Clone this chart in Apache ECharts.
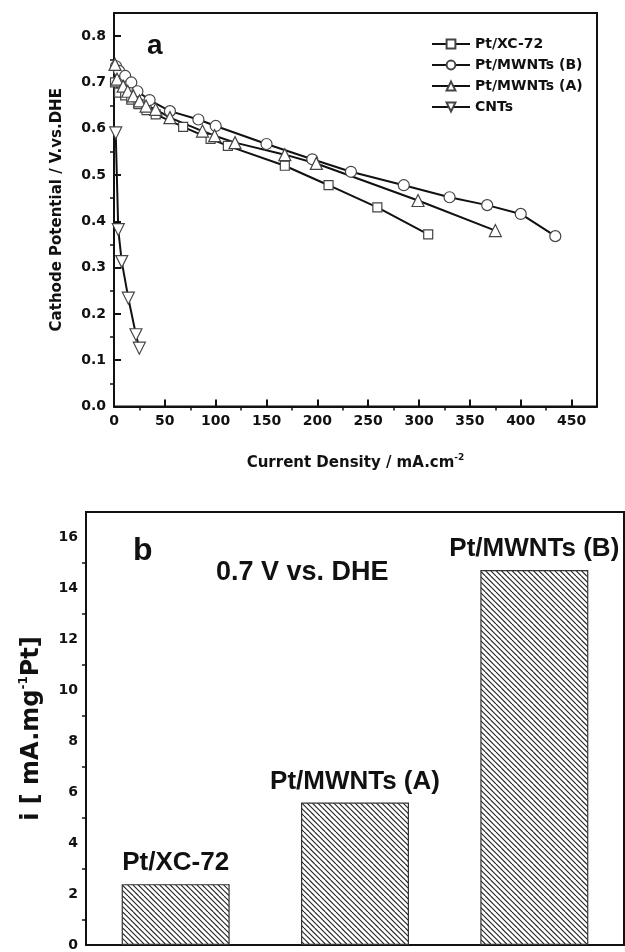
<!DOCTYPE html>
<html lang="en">
<head>
    <meta charset="UTF-8">
    <title>Cathode polarization / mass activity</title>
    <script src="https://cdn.jsdelivr.net/npm/echarts@6/dist/echarts.min.js"></script>
    <style>
        html, body { margin: 0; padding: 0; background: #fff; }
        #chart { width: 625px; height: 952px; }
    </style>
</head>
<body>
<div id="chart"></div>
<script>
    // (a) polarization curves
    var xcX = [1, 5, 11, 17, 24, 32, 41, 68, 95, 112, 168, 211, 259, 309];
    var xcY = [0.700, 0.678, 0.672, 0.663, 0.653, 0.640, 0.631, 0.604, 0.578, 0.563, 0.520, 0.478, 0.430, 0.372];

    var mwBX = [2, 5, 11, 17, 23, 35, 55, 83, 100, 150, 195, 233, 285, 330, 367, 400, 434];
    var mwBY = [0.735, 0.725, 0.714, 0.700, 0.681, 0.662, 0.638, 0.620, 0.606, 0.567, 0.534, 0.507, 0.478, 0.452, 0.435, 0.416, 0.368];

    var mwAX = [1, 3, 9, 13.5, 19, 25, 31.5, 41, 55, 87, 99, 119, 168, 199, 299, 375];
    var mwAY = [0.739, 0.707, 0.692, 0.681, 0.671, 0.660, 0.649, 0.642, 0.624, 0.595, 0.585, 0.570, 0.544, 0.525, 0.445, 0.380];

    var cntX = [1.7, 4.2, 7.6, 14.1, 21.6, 24.9];
    var cntY = [0.591, 0.382, 0.313, 0.234, 0.155, 0.126];

    var seriesNames = ['Pt/XC-72', 'Pt/MWNTs (B)', 'Pt/MWNTs (A)', 'CNTs'];

    // (b) mass activity at 0.7 V
    var barCats = ['Pt/XC-72', 'Pt/MWNTs (A)', 'Pt/MWNTs (B)'];
    var barVals = [2.39, 5.59, 14.72];

    function zip(xs, ys) {
        return xs.map(function (x, i) { return [x, ys[i]]; });
    }

    // diagonal hatch for the bars
    function hatch() {
        var s = 16;
        var c = document.createElement('canvas');
        c.width = s; c.height = s;
        var g = c.getContext('2d');
        g.fillStyle = '#fff';
        g.fillRect(0, 0, s, s);
        g.strokeStyle = '#222';
        g.lineWidth = 1.1;
        for (var k = -s; k <= s; k += s / 3) {
            g.beginPath();
            g.moveTo(k, 0);
            g.lineTo(k + s, s);
            g.stroke();
        }
        return c;
    }

    var tickFont = { fontFamily: 'DejaVu Sans', fontWeight: 'bold', fontSize: 14, color: '#111' };
    var arialB = 'Liberation Sans';
    var invTri = 'path://M0,0 L12,0 L6,10.4 Z';
    // minor ticks ignore axisTick.inside, so flip them by hand
    var minorIn = { show: true, splitNumber: 2, length: -4, lineStyle: { width: 1.5, color: '#111' } };
    var tickIn = { inside: true, length: 7, lineStyle: { width: 2, color: '#111' } };

    function lineSeries(name, data, symbol, size) {
        return {
            name: name,
            type: 'line',
            xAxisIndex: 0,
            yAxisIndex: 0,
            data: data,
            symbol: symbol,
            symbolSize: size,
            showAllSymbol: true,
            lineStyle: { color: '#111', width: 2 },
            itemStyle: { color: '#fff', borderColor: '#444', borderWidth: 1.2 },
            emphasis: { disabled: true },
            animation: false
        };
    }

    var chart = echarts.init(document.getElementById('chart'));

    var option = {
        animation: false,
        backgroundColor: '#fff',
        grid: [
            { left: 114, top: 13, right: 28, bottom: 545.5, show: true, borderColor: '#111', borderWidth: 2 },
            { left: 86, top: 512, right: 1, bottom: -1, show: true, borderColor: '#111', borderWidth: 2 }
        ],
        legend: {
            data: seriesNames,
            orient: 'vertical',
            left: 426,
            top: 32,
            itemWidth: 38,
            itemHeight: 11,
            itemGap: 7,
            textStyle: { fontFamily: 'DejaVu Sans', fontWeight: 'bold', fontSize: 14, color: '#111' }
        },
        xAxis: [
            {
                gridIndex: 0,
                type: 'value',
                min: 0, max: 475, interval: 50,
                name: '{t|Current Density / mA.cm}{s|-2}',
                nameLocation: 'middle',
                nameGap: 47,
                nameTextStyle: {
                    rich: {
                        t: { fontFamily: 'DejaVu Sans', fontWeight: 'bold', fontSize: 15, color: '#111', lineHeight: 20 },
                        s: { fontFamily: 'DejaVu Sans', fontWeight: 'bold', fontSize: 9, color: '#111', verticalAlign: 'top', lineHeight: 10 }
                    }
                },
                axisLine: { lineStyle: { color: '#111', width: 2 } },
                axisTick: tickIn,
                minorTick: minorIn,
                splitLine: { show: false },
                axisLabel: Object.assign({ margin: 8, formatter: function (v) { return v > 460 ? '' : v; } }, tickFont)
            },
            {
                gridIndex: 1,
                type: 'category',
                data: barCats,
                axisLine: { lineStyle: { color: '#111', width: 2 } },
                axisTick: { show: false },
                axisLabel: { show: false }
            }
        ],
        yAxis: [
            {
                gridIndex: 0,
                type: 'value',
                min: 0, max: 0.85, interval: 0.1,
                name: 'Cathode Potential / V.vs.DHE',
                nameLocation: 'middle',
                nameGap: 49,
                nameTextStyle: { fontFamily: 'DejaVu Sans', fontWeight: 'bold', fontSize: 15, color: '#111' },
                axisLine: { lineStyle: { color: '#111', width: 2 } },
                axisTick: tickIn,
                minorTick: minorIn,
                splitLine: { show: false },
                axisLabel: Object.assign({
                    margin: 8,
                    formatter: function (v) { return v > 0.81 ? '' : v.toFixed(1); }
                }, tickFont)
            },
            {
                gridIndex: 1,
                type: 'value',
                min: 0, max: 17, interval: 2,
                name: '{t|i [ mA.mg}{s|-1}{t|Pt]}',
                nameLocation: 'middle',
                nameGap: 40,
                nameTextStyle: {
                    rich: {
                        t: { fontFamily: 'DejaVu Sans', fontWeight: 'bold', fontSize: 24, color: '#111', lineHeight: 28 },
                        s: { fontFamily: 'DejaVu Sans', fontWeight: 'bold', fontSize: 12, color: '#111', verticalAlign: 'top', lineHeight: 12 }
                    }
                },
                axisLine: { lineStyle: { color: '#111', width: 2 } },
                axisTick: tickIn,
                minorTick: minorIn,
                splitLine: { show: false },
                axisLabel: {
                    margin: 8,
                    fontFamily: 'DejaVu Sans', fontWeight: 'bold', fontSize: 14, color: '#111',
                    formatter: function (v) { return v > 16.5 ? '' : v; }
                }
            }
        ],
        graphic: [
            { type: 'text', left: 147, top: 32, style: { text: 'a', font: 'bold 28px "Liberation Sans"', fill: '#111' } },
            { type: 'text', left: 133, top: 535, style: { text: 'b', font: 'bold 32px "Liberation Sans"', fill: '#111' } },
            { type: 'text', left: 216, top: 559, style: { text: '0.7 V vs. DHE', font: 'bold 27px "Liberation Sans"', fill: '#111' } }
        ],
        series: [
            lineSeries(seriesNames[0], zip(xcX, xcY), 'rect', 9),
            lineSeries(seriesNames[1], zip(mwBX, mwBY), 'circle', 11),
            lineSeries(seriesNames[2], zip(mwAX, mwAY), 'triangle', 12),
            lineSeries(seriesNames[3], zip(cntX, cntY), invTri, 12),
            {
                type: 'bar',
                xAxisIndex: 1,
                yAxisIndex: 1,
                data: barVals,
                barWidth: 108,
                itemStyle: {
                    color: { image: hatch(), repeat: 'repeat' },
                    borderColor: '#333',
                    borderWidth: 1.2
                },
                label: {
                    show: true,
                    position: 'top',
                    distance: 8,
                    formatter: '{b}',
                    fontFamily: arialB,
                    fontWeight: 'bold',
                    fontSize: 26,
                    color: '#111'
                },
                emphasis: { disabled: true }
            }
        ]
    };

    chart.setOption(option);
</script>
</body>
</html>
